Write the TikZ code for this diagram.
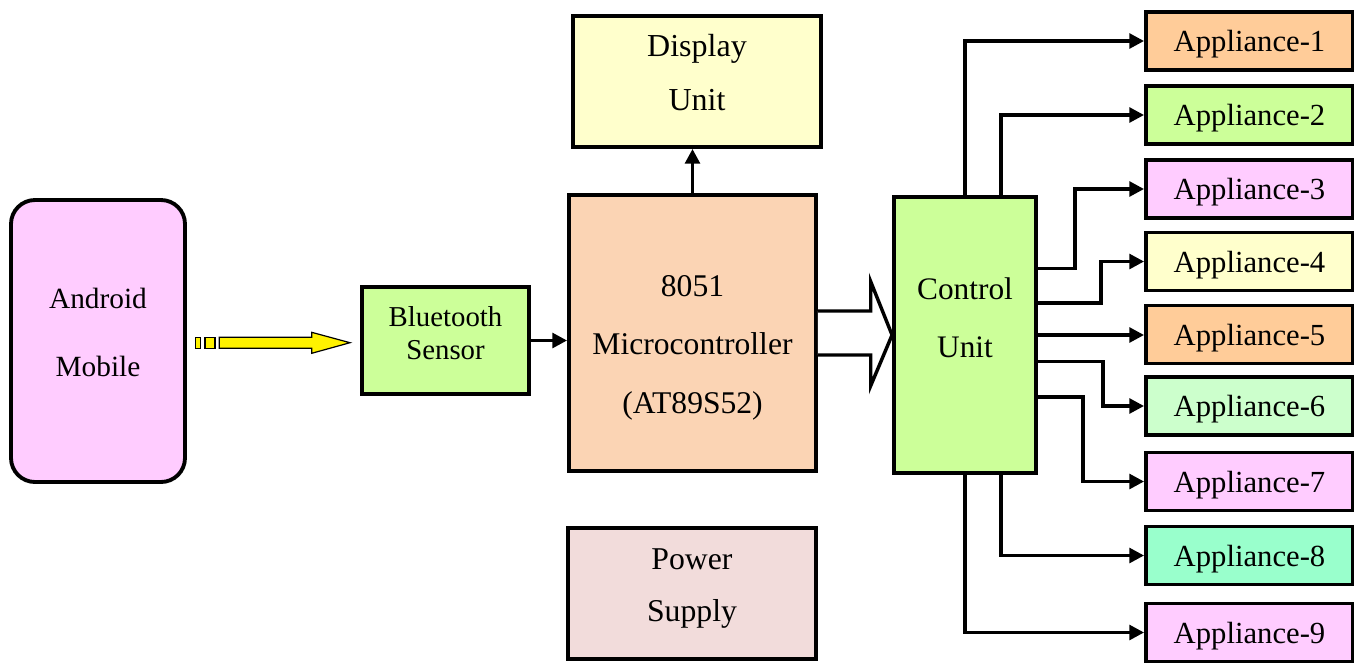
\documentclass[tikz,border=0pt]{standalone}
\usepackage{fontspec}
\setmainfont{Liberation Serif}
\usetikzlibrary{arrows.meta}

\definecolor{mobilepink}{HTML}{FFCCFF}
\definecolor{sensorgreen}{HTML}{CCFF99}
\definecolor{mcupeach}{HTML}{FBD4B4}
\definecolor{displayyellow}{HTML}{FFFFCC}
\definecolor{powerrose}{HTML}{F2DCDB}
\definecolor{applorange}{HTML}{FFCC99}
\definecolor{applmint}{HTML}{CCFFCC}
\definecolor{applaqua}{HTML}{99FFCC}

\tikzset{
	block/.style={draw, line width=2.9pt, inner sep=0pt, align=center},
	textpos/.style 2 args={text height=#1, text depth=#2},
	appl/.style={block, minimum width=155.25pt, minimum height=43.5pt, text depth=0pt, font=\fontsize{23}{28}\selectfont},
	feed/.style={line width=2.6pt, -{Triangle[length=11pt,width=11pt]}},
	hollow/.style={draw, fill=white, line width=2.6pt},
	radio/.style={draw, fill=yellow, line width=0.9pt}
}

\begin{document}
\begin{tikzpicture}[x=0.75pt,y=-0.75pt]
			%%%%% START %%%%%
			\useasboundingbox (0,0) rectangle (1354,662);
			
			\node[block, textpos={58.6pt}{5pt}, fill=mobilepink, rounded corners=18pt, minimum width=130.5pt, minimum height=211.5pt, font=\fontsize{22}{51}\selectfont] (mobile) at (98, 341) {Android\\Mobile};
			\node[block, textpos={34.2pt}{5pt}, fill=sensorgreen, minimum width=125.25pt, minimum height=80.25pt, font=\fontsize{21.6}{25}\selectfont] (sensor) at (445.5, 340.5) {Bluetooth\\Sensor};
			\node[block, textpos={126pt}{6pt}, fill=mcupeach, minimum width=185.25pt, minimum height=207pt, font=\fontsize{23.7}{43.6}\selectfont] (mcu) at (692.5, 333) {8051\\Microcontroller\\(AT89S52)};
			\node[block, textpos={47.8pt}{5pt}, fill=displayyellow, minimum width=186pt, minimum height=98.25pt, font=\fontsize{24}{40}\selectfont] (display) at (697, 81.5) {Display\\Unit};
			\node[block, textpos={47.3pt}{5pt}, fill=powerrose, minimum width=186pt, minimum height=98.25pt, font=\fontsize{23.8}{39.5}\selectfont] (power) at (692, 593.5) {Power\\Supply};
			\node[block, textpos={38.4pt}{5pt}, fill=sensorgreen, minimum width=106.5pt, minimum height=207pt, font=\fontsize{23.5}{43.7}\selectfont] (control) at (965, 335) {Control\\Unit};
			
			\node[appl, fill=applorange] (app1) at (1249.5, 41) {Appliance-1};
			\node[appl, fill=sensorgreen] (app2) at (1249.5, 115) {Appliance-2};
			\node[appl, fill=mobilepink] (app3) at (1249.5, 189) {Appliance-3};
			\node[appl, fill=displayyellow] (app4) at (1249.5, 261.5) {Appliance-4};
			\node[appl, fill=applorange] (app5) at (1249.5, 334.5) {Appliance-5};
			\node[appl, fill=applmint] (app6) at (1249.5, 406) {Appliance-6};
			\node[appl, fill=mobilepink] (app7) at (1249.5, 481.5) {Appliance-7};
			\node[appl, fill=applaqua] (app8) at (1249.5, 555.5) {Appliance-8};
			\node[appl, fill=mobilepink] (app9) at (1249.5, 632.5) {Appliance-9};
			
			% wireless link
			\draw[radio] (195.7, 337.3) rectangle (200.7, 348.3);
			\draw[radio] (205, 337.3) rectangle (215, 348.3);
			\draw[radio] (219.3, 337.3) -- (311.7, 337.3) -- (311.7, 332.3) -- (350, 342.7) -- (311.7, 353.3) -- (311.7, 348.3) -- (219.3, 348.3) -- cycle;
			
			\draw[feed] (sensor.east) -- (sensor.east -| mcu.west);
			\draw[feed] (mcu.north) -- (mcu.north |- display.south);
			
			\draw[hollow] ([yshift=16.5pt]mcu.east) -| ([xshift=-16pt, yshift=40pt]control.west) -- (control.west) -- ([xshift=-16pt, yshift=-38pt]control.west) |- ([yshift=-16.5pt]mcu.east);
			
			\draw[feed] (control.north) |- (app1.west);
			\draw[feed] ([xshift=27pt]control.north) |- (app2.west);
			\draw[feed] ([yshift=50pt]control.east) -- ++(37, 0) |- (app3.west);
			\draw[feed] ([yshift=24pt]control.east) -- ++(63, 0) |- (app4.west);
			\draw[feed] (control.east) -- (control.east -| app5.west);
			\draw[feed] ([yshift=-20pt]control.east) -- ++(65, 0) |- (app6.west);
			\draw[feed] ([yshift=-46.5pt]control.east) -- ++(45, 0) |- (app7.west);
			\draw[feed] ([xshift=27pt]control.south) |- (app8.west);
			\draw[feed] (control.south) |- (app9.west);
			
			%%%%% END %%%%%
\end{tikzpicture}
\end{document}
